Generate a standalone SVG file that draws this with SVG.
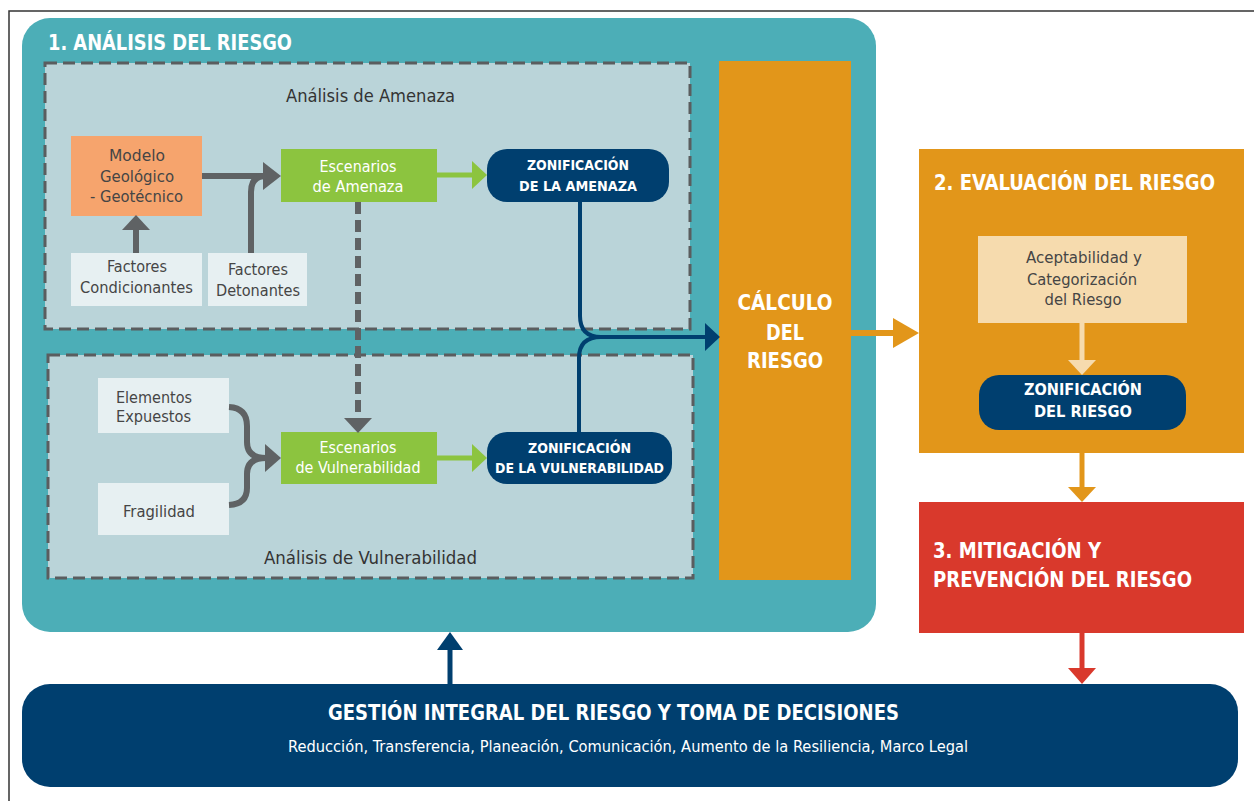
<svg xmlns="http://www.w3.org/2000/svg" width="1254" height="801" viewBox="0 0 1254 801">
<style>
text{font-family:"DejaVu Sans Condensed","DejaVu Sans",sans-serif}
.lbl{font-size:16px;fill:#454545}
.wl{font-size:15px;fill:#ffffff}
.zt{font-size:14px;font-weight:bold;fill:#ffffff}
.ttl{font-size:22px;font-weight:bold;fill:#ffffff}
.sec{font-size:17px;fill:#333333}
.dash{fill:#BAD4D9;stroke:#5A5D5F;stroke-width:3;stroke-dasharray:12 6}
.navy{fill:#003F6F}
.gray{stroke:#5F6264;stroke-width:6;fill:none}
.grayh{fill:#5F6264}
.green{stroke:#8CC43F;stroke-width:5;fill:none}
.greenh{fill:#8CC43F}
.nav{stroke:#003F6F;stroke-width:4;fill:none}
.navh{fill:#003F6F}
</style>
<rect x="0" y="0" width="1254" height="801" fill="#ffffff"/>
<path d="M9,801 V11 H1254" fill="none" stroke="#333333" stroke-width="1.5"/>

<g id="analisis">
<rect x="22" y="18" width="854" height="614" rx="28" fill="#4CAEB7"/>
<text class="ttl" x="48" y="50" textLength="244" lengthAdjust="spacingAndGlyphs">1. ANÁLISIS DEL RIESGO</text>
</g>
<g id="amenaza-area">
<rect class="dash" x="45" y="63" width="645" height="266"/>
<text class="sec" x="286" y="102" textLength="169" lengthAdjust="spacingAndGlyphs">Análisis de Amenaza</text>
</g>
<g id="vulnerabilidad-area">
<rect class="dash" x="48" y="355" width="645" height="223"/>
<text class="sec" x="264" y="564" textLength="213" lengthAdjust="spacingAndGlyphs">Análisis de Vulnerabilidad</text>
</g>

<g id="modelo">
<rect x="71" y="136" width="131" height="80" fill="#F6A46D"/>
<text class="lbl" text-anchor="middle" x="137" y="161" textLength="56" lengthAdjust="spacingAndGlyphs">Modelo</text>
<text class="lbl" text-anchor="middle" x="137" y="182" textLength="74" lengthAdjust="spacingAndGlyphs">Geológico</text>
<text class="lbl" text-anchor="middle" x="136.5" y="202" textLength="93" lengthAdjust="spacingAndGlyphs">- Geotécnico</text>
</g>
<g id="factores-condicionantes">
<rect x="71" y="253" width="131" height="53" fill="#E7F0F2"/>
<text class="lbl" text-anchor="middle" x="137" y="272" textLength="60" lengthAdjust="spacingAndGlyphs">Factores</text>
<text class="lbl" text-anchor="middle" x="136.5" y="293" textLength="113" lengthAdjust="spacingAndGlyphs">Condicionantes</text>
</g>
<g id="factores-detonantes">
<rect x="208" y="253" width="99" height="53" fill="#E7F0F2"/>
<text class="lbl" text-anchor="middle" x="258" y="275" textLength="60" lengthAdjust="spacingAndGlyphs">Factores</text>
<text class="lbl" text-anchor="middle" x="258" y="296" textLength="84" lengthAdjust="spacingAndGlyphs">Detonantes</text>
</g>
<g id="escenarios-amenaza">
<rect x="281" y="149" width="156" height="53" fill="#8CC43F"/>
<text class="wl" text-anchor="middle" x="358" y="172" textLength="77" lengthAdjust="spacingAndGlyphs">Escenarios</text>
<text class="wl" text-anchor="middle" x="358" y="192" textLength="91" lengthAdjust="spacingAndGlyphs">de Amenaza</text>
</g>
<g id="zonificacion-amenaza">
<rect class="navy" x="487" y="149" width="182" height="53" rx="20"/>
<text class="zt" text-anchor="middle" x="578" y="170" textLength="102" lengthAdjust="spacingAndGlyphs">ZONIFICACIÓN</text>
<text class="zt" text-anchor="middle" x="578" y="191" textLength="118" lengthAdjust="spacingAndGlyphs">DE LA AMENAZA</text>
</g>
<g id="elementos-expuestos">
<rect x="98" y="378" width="131" height="55" fill="#E7F0F2"/>
<text class="lbl" x="116" y="403" textLength="76" lengthAdjust="spacingAndGlyphs">Elementos</text>
<text class="lbl" x="116" y="422" textLength="75" lengthAdjust="spacingAndGlyphs">Expuestos</text>
</g>
<g id="fragilidad">
<rect x="98" y="483" width="131" height="52" fill="#E7F0F2"/>
<text class="lbl" x="123" y="517" textLength="72" lengthAdjust="spacingAndGlyphs">Fragilidad</text>
</g>
<g id="escenarios-vulnerabilidad">
<rect x="281" y="432" width="156" height="52" fill="#8CC43F"/>
<text class="wl" text-anchor="middle" x="358" y="453" textLength="77" lengthAdjust="spacingAndGlyphs">Escenarios</text>
<text class="wl" text-anchor="middle" x="358" y="473" textLength="125" lengthAdjust="spacingAndGlyphs">de Vulnerabilidad</text>
</g>
<g id="zonificacion-vulnerabilidad">
<rect class="navy" x="487" y="432" width="185" height="52" rx="20"/>
<text class="zt" text-anchor="middle" x="579.5" y="453" textLength="103" lengthAdjust="spacingAndGlyphs">ZONIFICACIÓN</text>
<text class="zt" text-anchor="middle" x="579.5" y="473" textLength="169" lengthAdjust="spacingAndGlyphs">DE LA VULNERABILIDAD</text>
</g>
<g id="calculo">
<rect x="719" y="61" width="132" height="519" fill="#E2961A"/>
<text class="ttl" text-anchor="middle" x="785" y="310" textLength="95" lengthAdjust="spacingAndGlyphs">CÁLCULO</text>
<text class="ttl" text-anchor="middle" x="785" y="340" textLength="38" lengthAdjust="spacingAndGlyphs">DEL</text>
<text class="ttl" text-anchor="middle" x="785" y="368" textLength="76" lengthAdjust="spacingAndGlyphs">RIESGO</text>
</g>
<g id="evaluacion">
<rect x="919" y="149" width="325" height="304" fill="#E2961A"/>
<text class="ttl" x="934" y="190" textLength="281" lengthAdjust="spacingAndGlyphs">2. EVALUACIÓN DEL RIESGO</text>
</g>
<g id="aceptabilidad">
<rect x="978" y="236" width="209" height="87" fill="#F6DBAE"/>
<text class="lbl" text-anchor="middle" x="1084" y="263" textLength="116" lengthAdjust="spacingAndGlyphs">Aceptabilidad y</text>
<text class="lbl" text-anchor="middle" x="1082" y="285" textLength="110" lengthAdjust="spacingAndGlyphs">Categorización</text>
<text class="lbl" text-anchor="middle" x="1083" y="305" textLength="77" lengthAdjust="spacingAndGlyphs">del Riesgo</text>
</g>
<g id="zonificacion-riesgo">
<rect class="navy" x="979" y="375" width="207" height="55" rx="20"/>
<text class="zt" style="font-size:16px" text-anchor="middle" x="1083" y="395" textLength="118" lengthAdjust="spacingAndGlyphs">ZONIFICACIÓN</text>
<text class="zt" style="font-size:16px" text-anchor="middle" x="1083" y="417" textLength="98" lengthAdjust="spacingAndGlyphs">DEL RIESGO</text>
</g>
<g id="mitigacion">
<rect x="919" y="502" width="325" height="131" fill="#D9392C"/>
<text class="ttl" x="933" y="558" textLength="168" lengthAdjust="spacingAndGlyphs">3. MITIGACIÓN Y</text>
<text class="ttl" x="933" y="587" textLength="259" lengthAdjust="spacingAndGlyphs">PREVENCIÓN DEL RIESGO</text>
</g>
<g id="gestion">
<rect class="navy" x="22" y="684" width="1216" height="103" rx="28"/>
<text class="ttl" style="font-size:21px" x="328" y="720" textLength="571" lengthAdjust="spacingAndGlyphs">GESTIÓN INTEGRAL DEL RIESGO Y TOMA DE DECISIONES</text>
<text class="wl" x="288" y="752" textLength="680" lengthAdjust="spacingAndGlyphs">Reducción, Transferencia, Planeación, Comunicación, Aumento de la Resiliencia, Marco Legal</text>
</g>

<g id="connectors">
<line class="gray" x1="136" y1="253" x2="136" y2="228"/>
<polygon class="grayh" points="122,230 150,230 136,215"/>
<line class="gray" x1="202" y1="176" x2="265" y2="176"/>
<path class="gray" d="M251,253 V192 Q251,176 266,176"/>
<polygon class="grayh" points="263,162 263,190 281,176"/>
<line class="gray" x1="358" y1="202" x2="358" y2="419" stroke-dasharray="12 6"/>
<polygon class="grayh" points="344,418 372,418 358,433"/>
<path class="gray" d="M229,407 Q247,408 247,426 V442 Q247,458 266,458"/>
<path class="gray" d="M229,505 Q247,504 247,488 V474 Q247,458 266,458"/>
<polygon class="grayh" points="265,444 265,472 281,458"/>
<line class="green" x1="437" y1="175" x2="474" y2="175"/>
<polygon class="greenh" points="472,161 472,189 487,175"/>
<line class="green" x1="437" y1="458" x2="474" y2="458"/>
<polygon class="greenh" points="472,444 472,472 487,458"/>
<path class="nav" d="M580,202 V316 Q580,337 601,337 H707"/>
<path class="nav" d="M579,432 V358 Q579,337 601,337"/>
<polygon class="navh" points="705,323 705,351 720,337"/>
<line x1="851" y1="333" x2="896" y2="333" stroke="#E2961A" stroke-width="6"/>
<polygon fill="#E2961A" points="893,318 893,348 919,333"/>
<line x1="1082" y1="323" x2="1082" y2="362" stroke="#F6DBAE" stroke-width="5"/>
<polygon fill="#F6DBAE" points="1068,360 1096,360 1082,375"/>
<line x1="1082" y1="453" x2="1082" y2="489" stroke="#E2961A" stroke-width="5"/>
<polygon fill="#E2961A" points="1068,487 1096,487 1082,502"/>
<line x1="1082" y1="633" x2="1082" y2="670" stroke="#D9392C" stroke-width="5"/>
<polygon fill="#D9392C" points="1068,668 1096,668 1082,684"/>
<line x1="450" y1="684" x2="450" y2="648" stroke="#003F6F" stroke-width="5"/>
<polygon class="navh" points="437,650 463,650 450,632"/>
</g>
</svg>
